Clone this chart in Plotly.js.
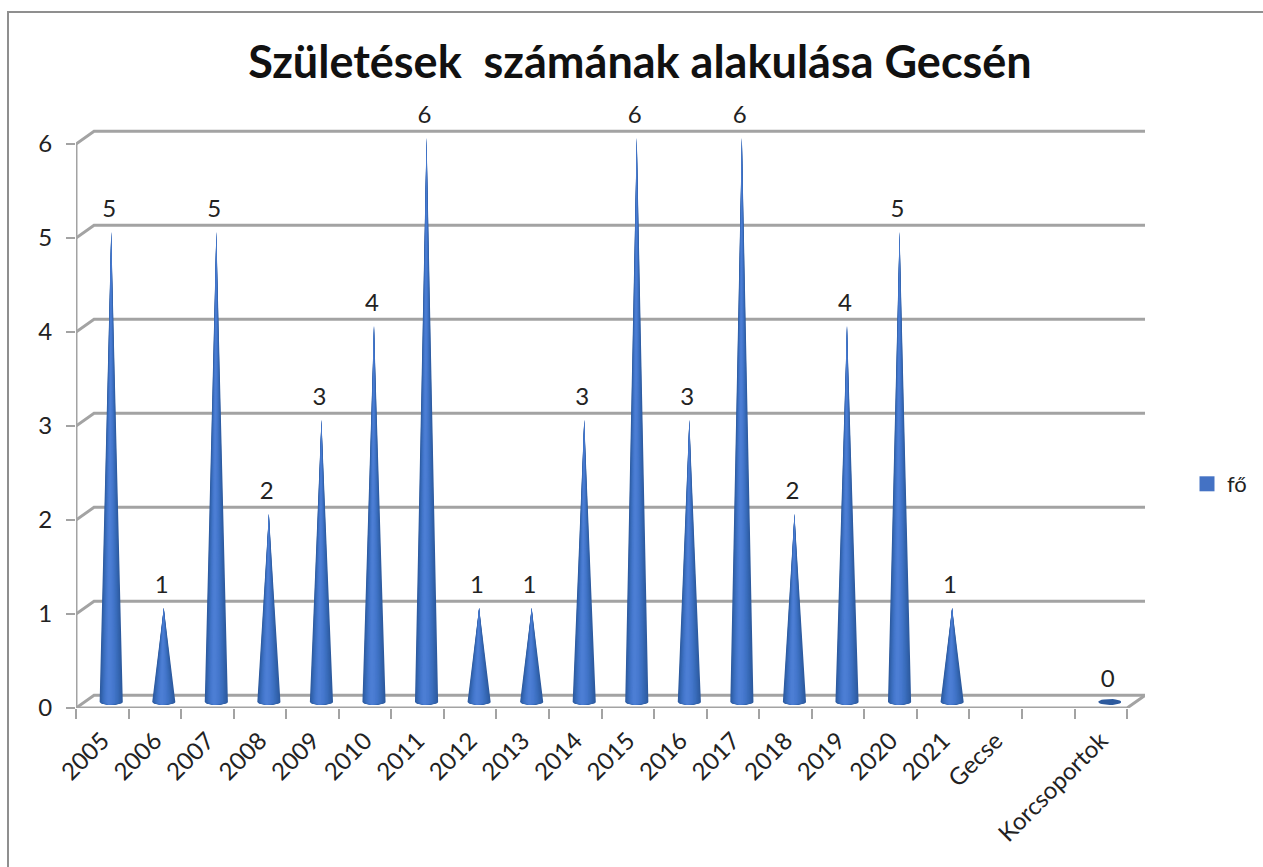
<!DOCTYPE html>
<html><head><meta charset="utf-8">
<script src="https://cdn.plot.ly/plotly-3.0.1.min.js"></script>
<style>html,body{margin:0;padding:0;background:#fff;overflow:hidden}
#chart{position:absolute;left:0;top:0;width:1263px;height:867px}
#frame{position:absolute;left:7px;top:11px;right:0;bottom:0;border-left:2px solid #8f8f8f;border-top:2px solid #8f8f8f;pointer-events:none}</style>
</head><body><div id="chart"></div><div id="frame"></div>
<script>
// Data
const categories = ['2005','2006','2007','2008','2009','2010','2011','2012','2013','2014','2015','2016','2017','2018','2019','2020','2021','Gecse','','Korcsoportok'];
const values = [5,1,5,2,3,4,6,1,1,3,6,3,6,2,4,5,1,null,null,0];
const yTicks = [0,1,2,3,4,5,6];
const seriesName = 'fő';
const titleText = 'Születések\u00a0 számának alakulása Gecsén';
// Gradient of the cones, outer to inner
const coneShades = ['#2d5a9e','#305fa6','#3363ad','#3668b5','#3a6dbc','#3e71c3','#4275c9','#4678ce','#497bd1','#4c7ed4'];
const coneWidths = [1,0.92,0.84,0.75,0.66,0.56,0.46,0.36,0.26,0.15];
const gridColor = '#a3a3a3', textColor = '#222222', font = 'Lato, "Open Sans", sans-serif';

const idx = categories.map((_, i) => i);
const xRange = [-0.5, 19.84], yRange = [0, 6.468];
const depthX = 0.3435, depthY = 0.135;   // wall offset of the 3D box
const coneX = 0.17, coneBase = 0.064, coneHalf = 0.22, arcDepth = 0.032;

function conePath(t) {
  const xs = [], ys = [];
  values.forEach((v, i) => {
    if (v === null || (v === 0 && t < 1)) return;
    const cx = i + coneX - 0.012 * (1 - t) * 4;
    const w = coneHalf * t;
    const start = xs.length;
    for (let a = 0; a <= 12; a++) {
      const p = Math.PI * a / 12;
      xs.push(cx - w * Math.cos(p));
      ys.push(coneBase - arcDepth * Math.sin(p));
    }
    if (v > 0) { xs.push(i + coneX); ys.push(coneBase + v); }
    else {
      for (let a = 11; a > 0; a--) {
        const p = Math.PI * a / 12;
        xs.push(cx - w * Math.cos(p));
        ys.push(coneBase + arcDepth * Math.sin(p));
      }
    }
    xs.push(xs[start]); ys.push(ys[start]);
    xs.push(null); ys.push(null);
  });
  return {xs, ys};
}

const traces = [];
// back wall grid lines running round the box
yTicks.forEach(v => {
  traces.push({type:'scatter', mode:'lines', x:[-0.5,-0.5+depthX,19.5+depthX], y:[v,v+depthY,v+depthY],
    line:{color:gridColor,width:3}, cliponaxis:false, showlegend:false, hoverinfo:'skip'});
});
// floor front edge and value axis
traces.push({type:'scatter', mode:'lines', x:[19.5+depthX,19.5,-0.5,-0.5], y:[depthY,0,0,yTicks[yTicks.length-1]],
  line:{color:gridColor,width:3}, cliponaxis:false, showlegend:false, hoverinfo:'skip'});
// cones
coneWidths.forEach((t, k) => {
  const p = conePath(t);
  traces.push({type:'scatter', mode:'lines', x:p.xs, y:p.ys, fill:'toself', fillcolor:coneShades[k],
    line:{width:0,color:coneShades[k]}, cliponaxis:false, showlegend:false, hoverinfo:'skip'});
});
// legend entry
traces.push({type:'scatter', mode:'markers', name:seriesName, x:[null], y:[null],
  marker:{symbol:'square', size:15, color:'#4472c4'}, showlegend:true, hoverinfo:'skip'});
// data labels
traces.push({type:'scatter', mode:'text', xaxis:'x2', yaxis:'y',
  x:idx.filter(i => values[i] !== null).map(i => i + 0.13),
  y:values.filter(v => v !== null).map(v => v + coneBase + 0.10),
  text:values.filter(v => v !== null).map(String), textposition:'top center',
  textfont:{family:font,size:24,color:textColor}, cliponaxis:false, showlegend:false, hoverinfo:'skip'});

const boundaries = [-0.5].concat(idx.map(i => i + 0.5));
const layout = {
  width:1263, height:867, autosize:false,
  margin:{l:76,r:118,t:100,b:159,pad:0},
  paper_bgcolor:'#ffffff', plot_bgcolor:'rgba(0,0,0,0)',
  font:{family:font,size:24,color:textColor},
  title:{text:titleText, font:{family:font,size:45,color:'#111111',weight:700}, xref:'container', yref:'container', x:640/1263, xanchor:'center', y:1-62/867, yanchor:'middle'},
  showlegend:true,
  legend:{xref:'container',yref:'container',x:1187/1263,xanchor:'left',y:1-484/867,yanchor:'middle',bgcolor:'rgba(0,0,0,0)',borderwidth:0,itemwidth:30,font:{family:font,size:22,color:textColor}},
  xaxis:{range:xRange, tickmode:'array', tickvals:boundaries, showticklabels:false, ticks:'outside', ticklen:10, tickwidth:2, tickcolor:gridColor, showgrid:false, zeroline:false, showline:false, fixedrange:true},
  xaxis2:{range:xRange, overlaying:'x', anchor:'y', side:'bottom', tickmode:'array', tickvals:idx, ticktext:categories, tickangle:-45, ticks:'', showgrid:false, zeroline:false, showline:false, fixedrange:true, ticklabelstandoff:13, tickfont:{family:font,size:24,color:textColor}},
  yaxis:{range:yRange, tickmode:'array', tickvals:yTicks, ticks:'outside', ticklen:9, tickwidth:2, tickcolor:gridColor, showgrid:false, zeroline:false, showline:false, fixedrange:true, ticklabelstandoff:9, tickfont:{family:font,size:24,color:textColor}}
};
Plotly.newPlot('chart', traces, layout, {displayModeBar:false, staticPlot:true});
</script></body></html>
